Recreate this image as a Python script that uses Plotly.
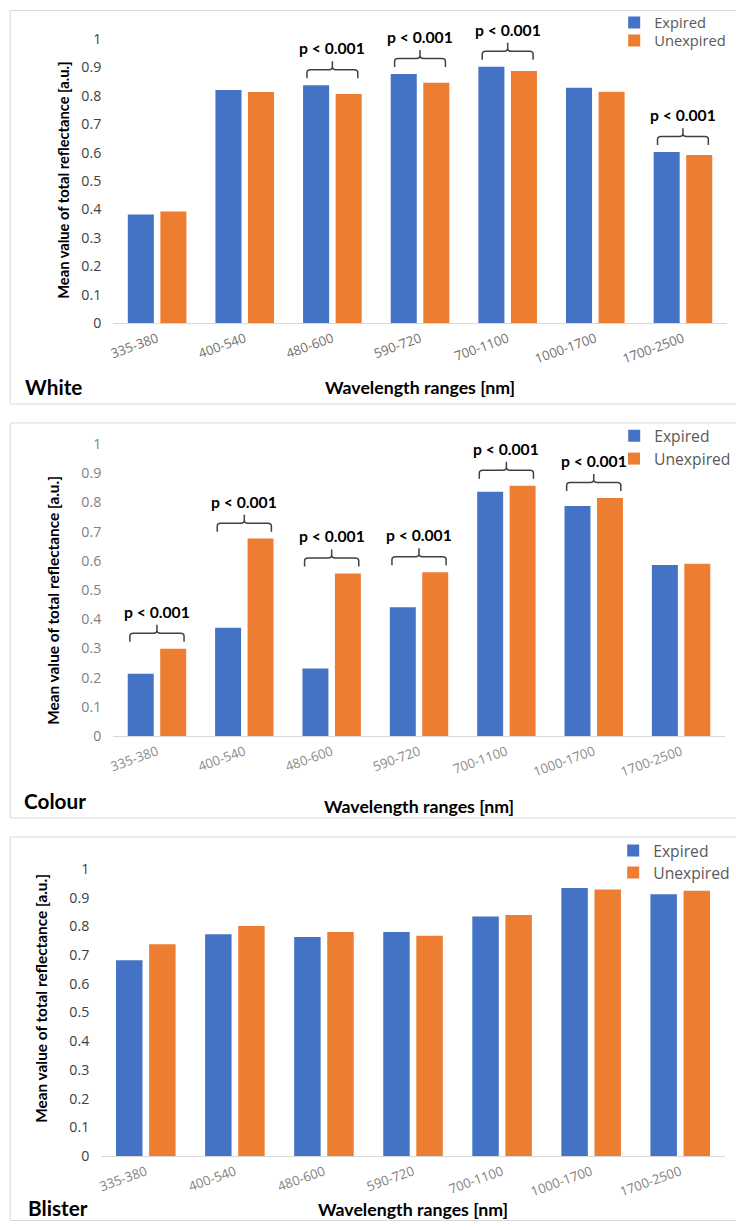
import plotly.graph_objects as go

# ---------------- data ----------------
categories = ["335-380", "400-540", "480-600", "590-720", "700-1100", "1000-1700", "1700-2500"]
series_names = ["Expired", "Unexpired"]
panel_names = ["White", "Colour", "Blister"]

white_expired = [0.382, 0.820, 0.837, 0.877, 0.902, 0.828, 0.602]
white_unexpired = [0.393, 0.813, 0.806, 0.846, 0.887, 0.814, 0.592]
colour_expired = [0.214, 0.371, 0.232, 0.441, 0.836, 0.788, 0.586]
colour_unexpired = [0.299, 0.676, 0.557, 0.561, 0.857, 0.815, 0.590]
blister_expired = [0.682, 0.772, 0.763, 0.780, 0.834, 0.933, 0.912]
blister_unexpired = [0.738, 0.801, 0.780, 0.767, 0.839, 0.928, 0.924]

white_sig = ["480-600", "590-720", "700-1100", "1700-2500"]
colour_sig = ["335-380", "400-540", "480-600", "590-720", "700-1100", "1000-1700"]
blister_sig = []
sig_label = "p < 0.001"

y_tickvals = [0, 0.1, 0.2, 0.3, 0.4, 0.5, 0.6, 0.7, 0.8, 0.9, 1]
y_ticktext = ["0", "0.1", "0.2", "0.3", "0.4", "0.5", "0.6", "0.7", "0.8", "0.9", "1"]
x_title = "Wavelength ranges [nm]"
y_title = "Mean value of total reflectance [a.u.]"

# ---------------- style / geometry ----------------
W, H = 736, 1230
# the photographed page appears uniformly scaled and centred; compensate
S, CX, CY = 0.987, 4.8, 8.0
FS = 1 / S
BLUE, ORANGE = "#4472C4", "#ED7D31"
GRID = "#d9d9d9"
BOLD_FONT = "Lato"
TICK_FONT = "Open Sans"

def pgx(x):
    return (x - CX) / S

def pgy(y):
    return (y - CY) / S

def px(x):
    return pgx(x) / W

def py(y):
    return 1 - pgy(y) / H

def py_clamped(y):
    return 1 - min(max(pgy(y), 0.5), H - 0.5) / H

panels = [
    dict(name=panel_names[0], exp=white_expired, unexp=white_unexpired, sig=white_sig,
         plot=(113, 726, 37, 322), border=(10, 6, 745, 403),
         ytitle=(63, 179, 14.5), label=(23, 386), xtitle_y=386,
         legend=[(653, 21), (653, 39)], lfs=14.5,
         tickcol="#404040", xtickcol="#6f6f6f", brace_hw=0.29),
    dict(name=panel_names[1], exp=colour_expired, unexp=colour_unexpired, sig=colour_sig,
         plot=(113, 724, 443, 736), border=(10, 422, 745, 818),
         ytitle=(52, 600, 15.2), label=(22, 801), xtitle_y=806,
         legend=[(653, 435), (653, 458)], lfs=15.5,
         tickcol="#7f7f7f", xtickcol="#8a8a8a", brace_hw=0.31),
    dict(name=panel_names[2], exp=blister_expired, unexp=blister_unexpired, sig=blister_sig,
         plot=(101, 724, 869, 1157), border=(10, 837, 745, 1245),
         ytitle=(40, 999, 15.2), label=(26, 1215), xtitle_y=1220,
         legend=[(652, 851), (652, 873)], lfs=15.5,
         tickcol="#404040", xtickcol="#7f7f7f", brace_hw=0.3),
]

fig = go.Figure()
layout = dict(
    width=W, height=H, autosize=False,
    margin=dict(l=0, r=0, t=0, b=0),
    paper_bgcolor="white", plot_bgcolor="white",
    barmode="group", bargap=0.257, bargroupgap=0.2,
    font=dict(family=TICK_FONT, color="#595959"),
)
shapes, annotations = [], []
xidx = list(range(len(categories)))
leg_no = 0

for i, p in enumerate(panels):
    n = "" if i == 0 else str(i + 1)
    xa, ya = "x" + n, "y" + n
    x0, x1, yt, yb = p["plot"]
    ppu = yb - yt  # reference pixels per data unit on y

    for j, (vals, name, col) in enumerate([(p["exp"], series_names[0], BLUE),
                                           (p["unexp"], series_names[1], ORANGE)]):
        leg_no += 1
        leg = "legend" if leg_no == 1 else "legend" + str(leg_no)
        fig.add_trace(go.Bar(
            x=xidx, y=vals, name=name, marker=dict(color=col, line=dict(width=0)),
            xaxis=xa, yaxis=ya, legend=leg, showlegend=True,
            hovertemplate="%{y}<extra>" + name + "</extra>",
        ))
        lx, ly = p["legend"][j]
        layout[leg] = dict(
            x=px(lx - 40 * S), y=py(ly), xanchor="left", yanchor="middle",
            font=dict(family=TICK_FONT, size=p["lfs"] * FS, color="#595959"),
            bgcolor="rgba(0,0,0,0)", itemwidth=30, tracegroupgap=0,
        )

    layout["xaxis" + n] = dict(
        domain=[px(x0), px(x1)], anchor=ya, range=[-0.5, len(categories) - 0.5],
        tickmode="array", tickvals=xidx, ticktext=categories, tickangle=-20,
        tickfont=dict(family=TICK_FONT, size=13 * FS, color=p["xtickcol"]),
        showline=True, linecolor=GRID, linewidth=1, showgrid=False, zeroline=False,
        ticks="", ticklabelstandoff=2, fixedrange=True,
    )
    layout["yaxis" + n] = dict(
        domain=[py(yb), py(yt)], anchor=xa, range=[0, 1],
        tickmode="array", tickvals=y_tickvals, ticktext=y_ticktext,
        tickfont=dict(family=TICK_FONT, size=14 * FS, color=p["tickcol"]),
        showline=False, showgrid=False, zeroline=False, ticks="",
        ticklabelstandoff=11, fixedrange=True,
    )

    # panel border
    bx0, by0, bx1, by1 = p["border"]
    shapes.append(dict(type="rect", xref="paper", yref="paper",
                       x0=px(bx0), x1=px(bx1), y0=py_clamped(by1), y1=py_clamped(by0),
                       line=dict(color=GRID, width=1), layer="below"))

    # y title
    tx, tyc, tfs = p["ytitle"]
    annotations.append(dict(text="<b>" + y_title + "</b>", textangle=-90, xref="paper", yref="paper",
                            x=px(tx), y=py(tyc), xanchor="center", yanchor="middle",
                            showarrow=False, font=dict(family=BOLD_FONT, size=tfs * FS, color="black")))
    # x title (kept inside the page)
    xt_fs = 17.5 * FS
    xt_c = min(pgy(p["xtitle_y"]), H - xt_fs * 0.65)
    annotations.append(dict(text="<b>" + x_title + "</b>", xref="paper", yref="paper",
                            x=px((x0 + x1) / 2), y=1 - xt_c / H,
                            xanchor="center", yanchor="middle", showarrow=False,
                            font=dict(family=BOLD_FONT, size=xt_fs, color="black")))
    # panel label
    lbx, lby = p["label"]
    lb_fs = 20.5 * FS
    lb_c = min(pgy(lby), H - lb_fs * 0.62)
    annotations.append(dict(text="<b>" + p["name"] + "</b>", xref="paper", yref="paper",
                            x=px(lbx), y=1 - lb_c / H, xanchor="left", yanchor="middle",
                            showarrow=False, font=dict(family=BOLD_FONT, size=lb_fs, color="black")))

    # significance braces
    hw = p["brace_hw"]
    r = 0.04
    for cat in p["sig"]:
        k = categories.index(cat)
        top = max(p["exp"][k], p["unexp"][k])
        yb_ = top + 7 / ppu
        yh = top + 15.5 / ppu
        ys = top + 24 / ppu
        ry = 3 / ppu
        xl, xr = k - hw, k + hw
        path = (f"M{xl},{yb_} L{xl},{yh - ry} Q{xl},{yh} {xl + r},{yh} "
                f"L{k - r},{yh} Q{k},{yh} {k},{yh + ry} L{k},{ys} "
                f"M{k},{yh + ry} Q{k},{yh} {k + r},{yh} "
                f"L{xr - r},{yh} Q{xr},{yh} {xr},{yh - ry} L{xr},{yb_}")
        shapes.append(dict(type="path", xref=xa, yref=ya, path=path,
                           line=dict(color="#404040", width=1.5)))
        annotations.append(dict(text="<b>" + sig_label + "</b>", xref=xa, yref=ya,
                                x=k, y=top + 26 / ppu, xanchor="center", yanchor="bottom",
                                showarrow=False,
                                font=dict(family=BOLD_FONT, size=15.5 * FS, color="black")))

layout["shapes"] = shapes
layout["annotations"] = annotations
fig.update_layout(**layout)
fig.write_html("out.html", config={"displayModeBar": False},
               post_script="document.body.style.margin='0';document.body.style.overflow='hidden';")
